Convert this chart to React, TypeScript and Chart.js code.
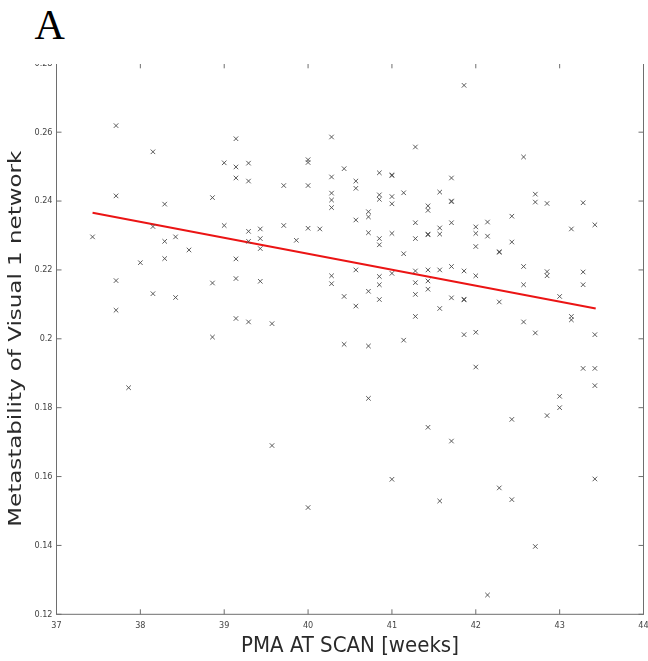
import React, { useEffect, useRef } from "react";
import { Chart, registerables } from "chart.js";

Chart.register(...registerables);

// PMA at scan (weeks)
const pmaWeeks: number[] = [
  37.71, 38.15, 39.14, 39.0, 39.14, 39.29, 39.14, 39.29, 39.71, 40.0, 40.0, 40.0, 40.28, 40.43, 40.28, 40.28, 40.28, 40.28,
  37.71, 38.29, 38.86, 37.43, 38.15, 38.29, 38.42, 38.58, 39.0, 39.29, 39.43, 39.29, 39.43, 39.43, 39.71, 39.86, 40.0, 40.14,
  38.29, 38.0, 39.14, 37.71, 38.86, 39.14, 39.43, 40.28, 40.28, 38.15, 38.42, 40.43, 37.71, 39.14, 39.29, 39.57, 38.86,
  41.86, 41.28, 42.57, 40.57, 40.57, 40.85, 41.0, 41.0, 41.71, 41.14, 40.85, 40.85, 41.0, 41.0, 41.57, 41.71, 41.71, 41.43,
  41.43, 42.71, 42.71, 42.85, 43.28, 40.72, 40.72, 40.57, 41.28, 41.71, 42.0, 42.0, 42.14, 42.14, 42.43, 43.14, 43.42, 40.72,
  40.85, 40.85, 41.0, 41.28, 41.43, 41.43, 41.57, 41.57, 42.0, 42.28, 42.28, 42.43, 41.14, 40.57, 40.85, 40.85, 41.0, 41.28,
  41.43, 41.57, 41.71, 41.86, 42.0, 42.57, 42.85, 42.85, 43.28, 43.28, 42.57, 41.28, 41.43, 41.43, 40.72, 40.85, 40.57, 41.28,
  41.71, 41.86, 41.86, 41.57, 41.28, 42.28, 43.0, 42.57, 43.14, 43.14, 41.86, 42.0, 42.71, 43.42, 41.14,
  40.43, 37.86, 39.57, 40.0,
  40.72, 42.0, 43.28, 43.42, 43.42, 40.72, 43.0, 43.0, 42.85, 42.43, 41.43, 41.71, 41.0, 43.42, 42.28, 41.57, 42.43, 42.71, 42.14,
];

// Metastability of Visual 1 network
const metastability: number[] = [
  0.2619, 0.2543, 0.2581, 0.2511, 0.2499, 0.251, 0.2467, 0.2458, 0.2445, 0.252, 0.2512, 0.2445, 0.2586, 0.2494, 0.247, 0.2423, 0.2403, 0.2381,
  0.2415, 0.2391, 0.241, 0.2296, 0.2326, 0.2283, 0.2296, 0.2258, 0.2329, 0.2312, 0.2319, 0.2283, 0.2291, 0.2262, 0.2329, 0.2286, 0.2321, 0.2319,
  0.2233, 0.2221, 0.2232, 0.2169, 0.2162, 0.2175, 0.2167, 0.2183, 0.216, 0.2131, 0.212, 0.2123, 0.2083, 0.2059, 0.2049, 0.2044, 0.2005,
  0.2736, 0.2557, 0.2528, 0.2458, 0.2437, 0.2482, 0.2476, 0.2474, 0.2467, 0.2424, 0.2418, 0.2405, 0.2413, 0.2392, 0.2426, 0.24, 0.2398, 0.2386,
  0.2373, 0.242, 0.2397, 0.2393, 0.2395, 0.2369, 0.2354, 0.2345, 0.2337, 0.2337, 0.2325, 0.2306, 0.2339, 0.2298, 0.2356, 0.2319, 0.2331, 0.2308,
  0.2291, 0.2273, 0.2306, 0.2291, 0.2304, 0.2302, 0.2322, 0.2304, 0.2268, 0.2253, 0.2251, 0.2281, 0.2247, 0.22, 0.2181, 0.2157, 0.219, 0.2197,
  0.22, 0.22, 0.221, 0.2197, 0.2183, 0.221, 0.2195, 0.2183, 0.2194, 0.2157, 0.2157, 0.2163, 0.2168, 0.2144, 0.2138, 0.2114, 0.2095, 0.2129,
  0.2119, 0.2115, 0.2113, 0.2088, 0.2065, 0.2107, 0.2123, 0.2049, 0.2065, 0.2055, 0.2012, 0.2019, 0.2017, 0.2012, 0.1996,
  0.1984, 0.1858, 0.169, 0.151,
  0.1979, 0.1918, 0.1914, 0.1914, 0.1864, 0.1827, 0.1833, 0.18, 0.1777, 0.1766, 0.1743, 0.1703, 0.1592, 0.1593, 0.1567, 0.1529, 0.1533, 0.1397, 0.1256,
];

// Regression line end points
const fitX: number[] = [37.43, 43.43];
const fitY: number[] = [0.2366, 0.2088];

const xTicks: number[] = [37, 38, 39, 40, 41, 42, 43, 44];
const xTickLabels: string[] = ["37", "38", "39", "40", "41", "42", "43", "44"];
const yTicks: number[] = [0.12, 0.14, 0.16, 0.18, 0.2, 0.22, 0.24, 0.26, 0.28];
const yTickLabels: string[] = ["0.12", "0.14", "0.16", "0.18", "0.2", "0.22", "0.24", "0.26", "0.28"];

const xTitle = "PMA AT SCAN [weeks]";
const yTitle = "Metastability of Visual 1 network";
const panelLabel = "A";

const COND = "'DejaVu Sans Condensed', 'DejaVu Sans', sans-serif";

const framePlugin = {
  id: "matlabFrame",
  beforeDatasetsDraw(chart: any) {
    const { ctx, chartArea } = chart;
    const { left, right, top, bottom } = chartArea;
    const xs = chart.scales.x;
    const ys = chart.scales.y;
    ctx.save();
    ctx.strokeStyle = "#6e6e6e";
    ctx.lineWidth = 1;
    ctx.strokeRect(left, top, right - left, bottom - top);
    const tl = 5;
    ctx.beginPath();
    xTicks.forEach((v) => {
      const p = xs.getPixelForValue(v);
      ctx.moveTo(p, bottom);
      ctx.lineTo(p, bottom - tl);
      ctx.moveTo(p, top);
      ctx.lineTo(p, top + tl);
    });
    yTicks.forEach((v) => {
      const p = ys.getPixelForValue(v);
      ctx.moveTo(left, p);
      ctx.lineTo(left + tl, p);
      ctx.moveTo(right, p);
      ctx.lineTo(right - tl, p);
    });
    ctx.stroke();
    ctx.restore();
  },
  afterDraw(chart: any) {
    const { ctx, chartArea } = chart;
    const cy = (chartArea.top + chartArea.bottom) / 2;
    ctx.save();
    ctx.translate(20.7, cy);
    ctx.rotate(-Math.PI / 2);
    ctx.font = "18.4px 'DejaVu Sans', sans-serif";
    const w = ctx.measureText(yTitle).width;
    const sx = 376 / w;
    ctx.scale(sx, 1);
    ctx.fillStyle = "#2a2a2a";
    ctx.textAlign = "center";
    ctx.textBaseline = "alphabetic";
    ctx.fillText(yTitle, 0, 0);
    ctx.restore();
  },
};

export default function App() {
  const ref = useRef<HTMLCanvasElement | null>(null);

  useEffect(() => {
    if (!ref.current) return;
    const points = pmaWeeks.map((x, i) => ({ x, y: metastability[i] }));
    const fit = fitX.map((x, i) => ({ x, y: fitY[i] }));
    const chart = new Chart(ref.current, {
      type: "scatter",
      data: {
        datasets: [
          {
            data: points,
            pointStyle: "crossRot",
            pointRadius: 3.2,
            pointHoverRadius: 3.2,
            borderColor: "#4a4a4a",
            backgroundColor: "#4a4a4a",
            borderWidth: 0.9,
            showLine: false,
          },
          {
            data: fit,
            showLine: true,
            borderColor: "rgb(235,20,20)",
            borderWidth: 2,
            pointRadius: 0,
            fill: false,
          },
        ],
      },
      options: {
        responsive: false,
        animation: false,
        devicePixelRatio: 1,
        layout: { padding: { left: 0, right: 36.5, top: 23.3, bottom: 0 } },
        plugins: { legend: { display: false }, tooltip: { enabled: false } },
        scales: {
          x: {
            type: "linear",
            min: 37,
            max: 44,
            grid: { display: false, drawTicks: false },
            border: { display: false },
            afterBuildTicks: (s: any) => {
              s.ticks = xTicks.map((v) => ({ value: v }));
            },
            afterFit: (s: any) => {
              s.height = 46.7;
            },
            ticks: {
              padding: 6,
              color: "#444",
              font: { family: COND, size: 9 },
              callback: (_v: any, i: number) => xTickLabels[i],
            },
            title: {
              display: true,
              text: xTitle,
              color: "#2a2a2a",
              font: { family: COND, size: 22 },
              padding: { top: 0, bottom: 2 },
            },
          },
          y: {
            type: "linear",
            min: 0.12,
            max: 0.28,
            grid: { display: false, drawTicks: false },
            border: { display: false },
            afterBuildTicks: (s: any) => {
              s.ticks = yTicks.map((v) => ({ value: v }));
            },
            afterFit: (s: any) => {
              s.width = 56.5;
            },
            ticks: {
              padding: 4,
              color: "#444",
              font: { family: COND, size: 9 },
              callback: (_v: any, i: number) => yTickLabels[i],
            },
          },
        },
      },
      plugins: [framePlugin],
    });
    return () => chart.destroy();
  }, []);

  return (
    <div style={{ position: "absolute", left: 0, top: 0, width: 648, height: 661, overflow: "hidden", background: "#fff" }}>
      <div
        style={{
          position: "absolute",
          left: 34.5,
          top: 1,
          fontFamily: "'Liberation Serif', serif",
          fontSize: 42,
          lineHeight: "normal",
          color: "#000",
        }}
      >
        {panelLabel}
      </div>
      <div style={{ position: "absolute", left: 0, top: 64, width: 648, height: 597, overflow: "hidden" }}>
        <canvas
          ref={ref}
          width={680}
          height={621}
          style={{ position: "absolute", left: 0, top: -24, width: 680, height: 621 }}
        />
      </div>
    </div>
  );
}
